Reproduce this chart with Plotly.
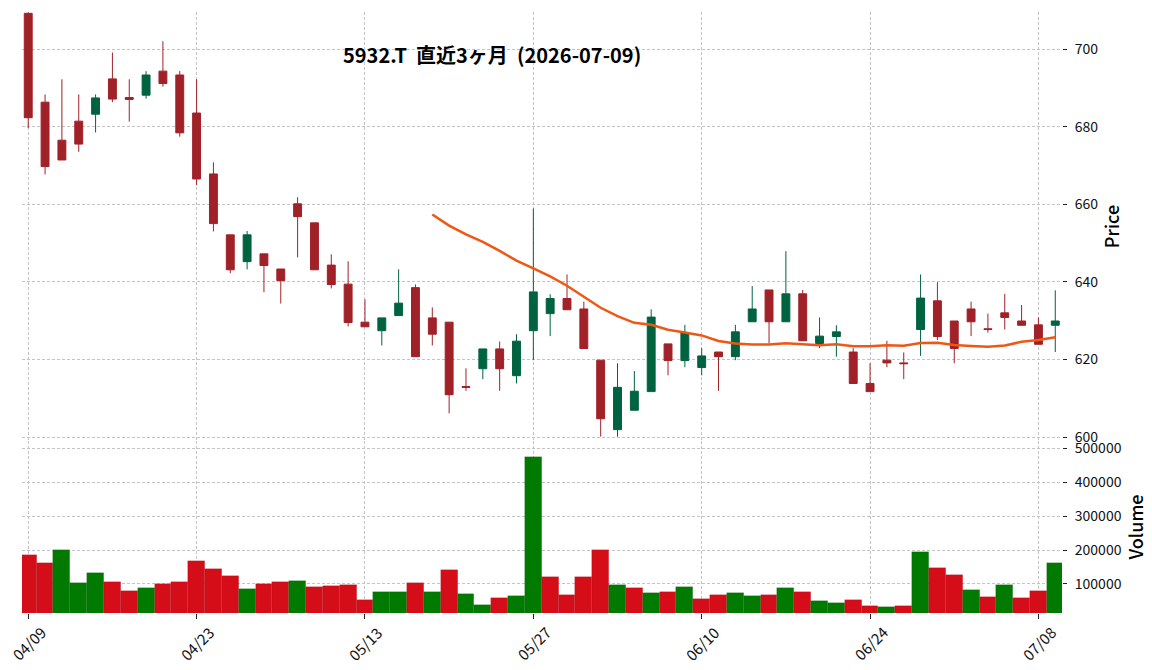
import pandas as pd
import plotly.graph_objects as go

# ---------------- data ----------------
dates = ["04/09", "04/10", "04/13", "04/14", "04/15", "04/16", "04/17", "04/20", "04/21", "04/22",
         "04/23", "04/24", "04/27", "04/28", "04/30", "05/01", "05/07", "05/08", "05/11", "05/12",
         "05/13", "05/14", "05/15", "05/18", "05/19", "05/20", "05/21", "05/22", "05/25", "05/26",
         "05/27", "05/28", "05/29", "06/01", "06/02", "06/03", "06/04", "06/05", "06/08", "06/09",
         "06/10", "06/11", "06/12", "06/15", "06/16", "06/17", "06/18", "06/19", "06/22", "06/23",
         "06/24", "06/25", "06/26", "06/29", "06/30", "07/01", "07/02", "07/03", "07/06", "07/07",
         "07/08", "07/09"]

opens = [709.2, 686.3, 676.5, 681.4, 683.2, 692.3, 687.5, 688.1, 694.3, 693.3,
         683.5, 667.8, 652.1, 645.2, 647.2, 643.3, 660.1, 655.2, 644.3, 639.4,
         629.6, 627.4, 631.3, 638.5, 630.7, 629.6, 613.0, 617.6, 622.7, 615.8,
         627.4, 631.8, 635.7, 633.0, 619.8, 601.9, 606.9, 611.7, 624.0, 619.7,
         617.9, 621.9, 620.7, 629.7, 637.9, 629.7, 636.9, 624.1, 625.9, 621.9,
         613.8, 619.8, 619.1, 627.7, 635.1, 629.9, 633.0, 627.9, 632.0, 629.9,
         628.9, 628.8]
highs = [709.4, 688.3, 692.2, 688.3, 688.3, 699.1, 692.2, 694.3, 702.0, 694.3,
         692.2, 670.8, 652.1, 653.1, 647.2, 643.3, 661.8, 655.2, 647.1, 645.3,
         635.5, 630.7, 643.2, 639.3, 633.4, 629.6, 617.7, 622.7, 624.6, 626.5,
         658.9, 636.8, 641.9, 634.9, 619.8, 619.0, 617.0, 632.9, 624.0, 628.9,
         622.9, 621.9, 628.9, 638.9, 637.9, 647.9, 637.9, 630.8, 628.8, 622.9,
         619.0, 624.8, 621.8, 641.9, 639.9, 629.9, 634.9, 631.8, 636.9, 634.0,
         630.8, 637.8]
lows = [679.6, 667.7, 671.4, 673.5, 678.5, 686.3, 681.3, 687.2, 690.3, 677.4,
        664.9, 653.0, 642.2, 643.2, 637.3, 634.4, 646.3, 643.1, 638.3, 628.5,
        628.4, 623.6, 631.3, 620.7, 623.6, 606.1, 611.9, 614.9, 611.9, 613.8,
        619.8, 626.0, 632.8, 622.8, 600.1, 600.1, 606.9, 611.7, 615.9, 618.0,
        615.9, 611.9, 619.8, 629.7, 624.1, 629.7, 624.8, 622.9, 620.7, 613.8,
        611.7, 618.0, 614.9, 620.9, 625.0, 619.0, 626.0, 626.9, 627.7, 628.8,
        623.9, 621.9]
closes = [682.3, 669.7, 671.4, 675.5, 687.4, 687.1, 687.0, 693.3, 691.1, 678.4,
          666.5, 655.0, 643.1, 652.1, 644.2, 640.3, 656.8, 643.1, 639.3, 629.5,
          628.4, 630.7, 634.5, 620.7, 626.5, 610.9, 612.8, 622.7, 617.6, 624.7,
          637.4, 635.7, 632.8, 622.8, 604.7, 612.8, 611.8, 630.9, 619.7, 626.9,
          620.9, 620.7, 627.1, 633.0, 629.7, 636.9, 624.8, 626.0, 627.1, 613.8,
          611.7, 619.1, 618.9, 635.8, 625.9, 622.8, 629.7, 627.7, 630.8, 628.8,
          623.9, 629.9]
volumes = [184700, 161000, 199500, 102000, 131500, 105000, 78300, 87200, 99000, 105000,
           167000, 143300, 122700, 84200, 99000, 105000, 107900, 90100, 93100, 96000,
           51700, 75400, 75400, 102000, 75400, 140400, 69500, 36900, 57600, 63500,
           474400, 119700, 66500, 119700, 199500, 96000, 87200, 72400, 75400, 90100,
           54700, 66500, 72400, 63500, 66500, 87200, 75400, 48800, 42900, 51700,
           34000, 31000, 34000, 193600, 146300, 125600, 81300, 60600, 96000, 57600,
           78300, 161000]

price_ticks = [600, 620, 640, 660, 680, 700]
volume_ticks = [100000, 200000, 300000, 400000, 500000]
title_text = "5932.T  直近3ヶ月  (2026-07-09)"
ma_window = 25

# ---------------- derived ----------------
df = pd.DataFrame({"date": dates, "open": opens, "high": highs, "low": lows,
                   "close": closes, "volume": volumes})
df["ma"] = df["close"].rolling(ma_window).mean()
prev_close = df["close"].shift(1)
vol_up = (df["close"] >= prev_close)
vol_up.iloc[0] = df["close"].iloc[0] >= df["open"].iloc[0]
vol_colors = ["#007a00" if u else "#d50d18" for u in vol_up]

UP, DOWN = "#006340", "#a02128"
FONT = "Noto Sans CJK JP"
GRID = "#c4c4c4"

fig = go.Figure()
fig.add_trace(go.Candlestick(
    x=df["date"], open=df["open"], high=df["high"], low=df["low"], close=df["close"],
    increasing=dict(line=dict(color=UP, width=1), fillcolor=UP),
    decreasing=dict(line=dict(color=DOWN, width=1), fillcolor=DOWN),
    whiskerwidth=0, xaxis="x", yaxis="y", showlegend=False))
fig.add_trace(go.Scatter(
    x=df["date"], y=df["ma"], mode="lines", line=dict(color="#ef5714", width=2.5),
    xaxis="x", yaxis="y", showlegend=False))
fig.add_trace(go.Bar(
    x=df["date"], y=df["volume"],
    marker=dict(color=vol_colors, line=dict(width=0.6, color="rgba(0,0,0,0.12)")),
    xaxis="x2", yaxis="y2", showlegend=False))

tick_idx = list(range(0, len(dates), 10))
tickv = [dates[i] for i in tick_idx]
xr = [-0.37, 61.4]
vol_top = 441
plot_top, plot_bot = 12, 613
H = plot_bot - plot_top
vdom = (plot_bot - vol_top) / H

common_x = dict(type="category", range=xr, tickvals=tickv, showgrid=True, gridcolor=GRID,
                griddash="3px,2px", gridwidth=0.8, zeroline=False, showline=False,
                automargin=False)
common_y = dict(side="right", ticks="outside", ticklen=4, tickcolor="#222", showgrid=True,
                gridcolor=GRID, griddash="3px,2px", gridwidth=0.8, zeroline=False,
                showline=False, automargin=False, ticklabelstandoff=5,
                tickfont=dict(size=14, family=FONT, color="#111"))

annotations = [dict(text=title_text, xref="paper", yref="paper",
                    x=(492 - 22) / 1040, y=(plot_bot - 54) / H,
                    xanchor="center", yanchor="middle", showarrow=False,
                    font=dict(size=20, family=FONT, weight=700, color="#000"))]
for d in tickv:
    annotations.append(dict(text=d, xref="x2", yref="paper", x=d, y=(plot_bot - 643) / H,
                            xanchor="center", yanchor="middle", showarrow=False, textangle=-45,
                            font=dict(size=15, family=FONT, color="#111")))

fig.update_layout(
    width=1152, height=670,
    margin=dict(l=22, r=90, t=plot_top, b=670 - plot_bot, autoexpand=False),
    paper_bgcolor="white", plot_bgcolor="white",
    boxgap=0.33, bargap=0,
    font=dict(family=FONT, size=13, color="#111"),
    xaxis=dict(common_x, anchor="y", showticklabels=False, ticks="", rangeslider=dict(visible=False)),
    xaxis2=dict(common_x, anchor="y2", matches="x", ticks="outside", ticklen=5, tickcolor="#222",
                showticklabels=False),
    yaxis=dict(common_y, domain=[vdom, 1], range=[598.97, 709.54], tickvals=price_ticks,
               title=dict(text="Price", font=dict(size=18, family=FONT, color="#000", weight=500),
                          standoff=8)),
    yaxis2=dict(common_y, domain=[0, vdom], range=[14200, 521700], tickvals=volume_ticks,
                tickformat="d",
                title=dict(text="Volume", font=dict(size=18, family=FONT, color="#000", weight=500),
                           standoff=8)),
    annotations=annotations,
)

fig.write_html("out.html")
